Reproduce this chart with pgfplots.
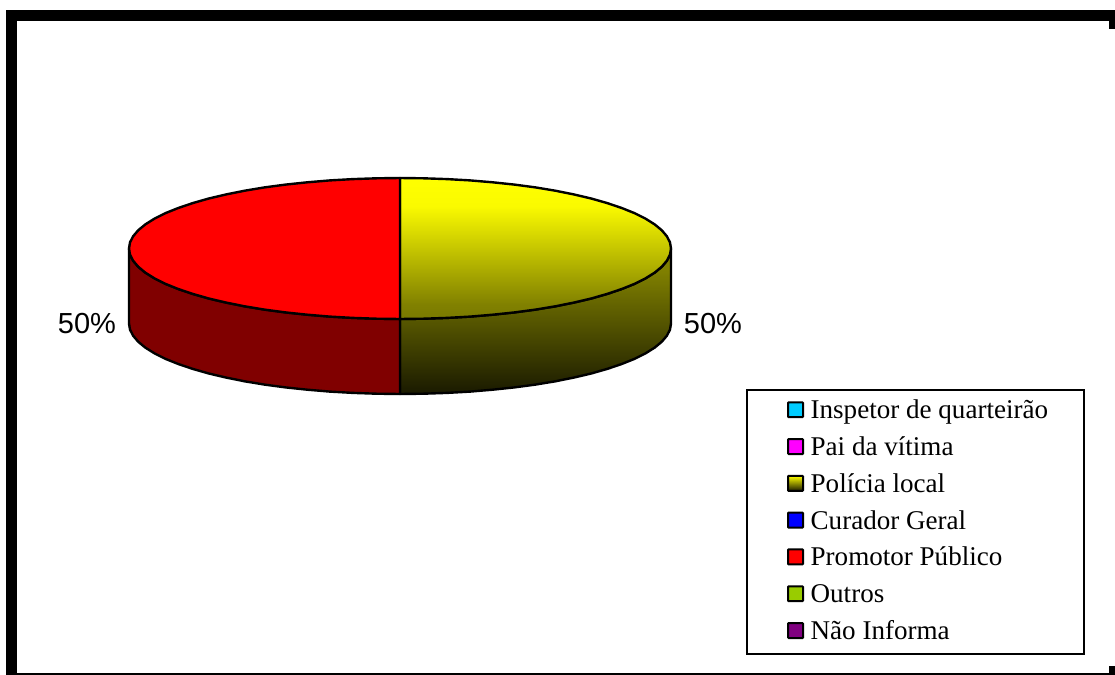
\documentclass[border=0pt]{standalone}
\usepackage{pgfplots}
\pgfplotsset{compat=1.18}
\usepackage{fontspec}
\setmainfont{Liberation Serif}
\newfontfamily\labfont{Liberation Sans}
\definecolor{pieYellow}{RGB}{255,255,0}
\definecolor{pieOliveC}{RGB}{26,26,0}
\definecolor{pieDarkRed}{RGB}{128,0,0}
\definecolor{lgCyan}{RGB}{0,204,255}
\definecolor{lgMagenta}{RGB}{255,0,255}
\definecolor{lgBlue}{RGB}{0,0,255}
\definecolor{lgRed}{RGB}{255,0,0}
\definecolor{lgGreen}{RGB}{153,204,0}
\definecolor{lgPurple}{RGB}{128,0,128}
\pgfdeclareverticalshading{pieTopSh}{100bp}{
  rgb(0bp)=(0.478,0.478,0);
  rgb(25bp)=(0.478,0.478,0);
  rgb(30bp)=(0.502,0.502,0);
  rgb(65bp)=(0.98,0.98,0);
  rgb(75bp)=(1,1,0);
  rgb(100bp)=(1,1,0)}
\pgfdeclareverticalshading{pieSideSh}{100bp}{
  rgb(0bp)=(0.1,0.1,0);
  rgb(25bp)=(0.1,0.1,0);
  rgb(67.5bp)=(0.502,0.502,0);
  rgb(75bp)=(0.502,0.502,0);
  rgb(100bp)=(0.502,0.502,0)}
\newcommand{\lgtxt}[1]{\makebox[174.75pt][l]{#1}}
\begin{document}
\begin{tikzpicture}
\begin{axis}[
  scale only axis, width=836.25pt, height=506.25pt,
  xmin=0, xmax=1115, ymin=0, ymax=675, y dir=reverse,
  hide axis, clip=true,
  every axis plot/.append style={forget plot},
  swatch/.style={legend image code/.code={
    \draw[##1,line width=1.5pt,draw=black,rounded corners=0.5pt,yshift=6.7pt] (0pt,-5.6pt) rectangle (11.25pt,5.6pt);}},
  legend style={
    at={(axis cs:746,389)}, anchor=north west,
    draw=black, line width=1.5pt, fill=white,
    inner xsep=30pt, inner ysep=5.4pt,
    row sep=6pt, column sep=5pt,
    font=\fontsize{20.3pt}{22pt}\selectfont,
    nodes={inner sep=0pt, text height=16.1pt, text depth=5.5pt, anchor=base west},
  },
  legend cell align=left,
]
% background
\addplot[fill=white,draw=none] coordinates {(0,0) (1115,0) (1115,675) (0,675)} --cycle;
% frame
\addplot[fill=black,draw=none] coordinates {(6,10) (1115,10) (1115,21) (6,21)} --cycle;
\addplot[fill=black,draw=none] coordinates {(6,10) (17,10) (17,675) (6,675)} --cycle;
\addplot[fill=black,draw=none] coordinates {(17,673) (1115,673) (1115,675) (17,675)} --cycle;
\addplot[fill=black,draw=none] coordinates {(1109,666) (1115,666) (1115,675) (1109,675)} --cycle;
\addplot[fill=black,draw=none] coordinates {(1109,21) (1115,21) (1115,29) (1109,29)} --cycle;
% right side wall (Polícia local, 50%)
\addplot[draw=black,line width=1.8pt,line join=round,shade,shading=pieSideSh] coordinates {
(671,248.5) (670,254.6) (666.9,260.7) (661.8,266.7) (654.7,272.6) (645.6,278.3) (634.7,283.8) (622,288.9) (607.6,293.8) (591.6,298.4) (574.2,302.5) (555.4,306.3) (535.5,309.6) (514.5,312.4) (492.7,314.7) (470.1,316.6) (447.1,317.9) (423.6,318.7) (400,319)
(400,394) (423.6,393.7) (447.1,392.9) (470.1,391.6) (492.7,389.7) (514.5,387.4) (535.5,384.6) (555.4,381.3) (574.2,377.5) (591.6,373.4) (607.6,368.8) (622,363.9) (634.7,358.8) (645.6,353.3) (654.7,347.6) (661.8,341.7) (666.9,335.7) (670,329.6) (671,323.5)
} --cycle;
% left side wall (Promotor Público, 50%)
\addplot[draw=black,line width=1.8pt,line join=round,fill=pieDarkRed] coordinates {
(129,248.5) (130,254.6) (133.1,260.7) (138.2,266.7) (145.3,272.6) (154.4,278.3) (165.3,283.8) (178,288.9) (192.4,293.8) (208.4,298.4) (225.8,302.5) (244.6,306.3) (264.5,309.6) (285.5,312.4) (307.3,314.7) (329.9,316.6) (352.9,317.9) (376.4,318.7) (400,319)
(400,394) (376.4,393.7) (352.9,392.9) (329.9,391.6) (307.3,389.7) (285.5,387.4) (264.5,384.6) (244.6,381.3) (225.8,377.5) (208.4,373.4) (192.4,368.8) (178,363.9) (165.3,358.8) (154.4,353.3) (145.3,347.6) (138.2,341.7) (133.1,335.7) (130,329.6) (129,323.5)
} --cycle;
% right top
\addplot[draw=black,line width=1.8pt,line join=round,shade,shading=pieTopSh] coordinates {
(400,178) (423.6,178.3) (447.1,179.1) (470.1,180.4) (492.7,182.3) (514.5,184.6) (535.5,187.4) (555.4,190.7) (574.2,194.5) (591.6,198.6) (607.6,203.2) (622,208.1) (634.7,213.2) (645.6,218.7) (654.7,224.4) (661.8,230.3) (666.9,236.3) (670,242.4) (671,248.5)
(670,254.6) (666.9,260.7) (661.8,266.7) (654.7,272.6) (645.6,278.3) (634.7,283.8) (622,288.9) (607.6,293.8) (591.6,298.4) (574.2,302.5) (555.4,306.3) (535.5,309.6) (514.5,312.4) (492.7,314.7) (470.1,316.6) (447.1,317.9) (423.6,318.7) (400,319)
} --cycle;
% left top
\addplot[draw=black,line width=1.8pt,line join=round,fill=lgRed] coordinates {
(400,178) (376.4,178.3) (352.9,179.1) (329.9,180.4) (307.3,182.3) (285.5,184.6) (264.5,187.4) (244.6,190.7) (225.8,194.5) (208.4,198.6) (192.4,203.2) (178,208.1) (165.3,213.2) (154.4,218.7) (145.3,224.4) (138.2,230.3) (133.1,236.3) (130,242.4) (129,248.5)
(130,254.6) (133.1,260.7) (138.2,266.7) (145.3,272.6) (154.4,278.3) (165.3,283.8) (178,288.9) (192.4,293.8) (208.4,298.4) (225.8,302.5) (244.6,306.3) (264.5,309.6) (285.5,312.4) (307.3,314.7) (329.9,316.6) (352.9,317.9) (376.4,318.7) (400,319)
} --cycle;
\node[font=\labfont\fontsize{21.75pt}{24pt}\selectfont,text=black,inner sep=0pt] at (axis cs:87,324) {50\%};
\node[font=\labfont\fontsize{21.75pt}{24pt}\selectfont,text=black,inner sep=0pt] at (axis cs:713,324) {50\%};
% legend
\addlegendimage{swatch,fill=lgCyan}
\addlegendentry{\lgtxt{Inspetor de quarteirão}}
\addlegendimage{swatch,fill=lgMagenta}
\addlegendentry{\lgtxt{Pai da vítima}}
\addlegendimage{swatch,top color=pieYellow,bottom color=pieOliveC}
\addlegendentry{\lgtxt{Polícia local}}
\addlegendimage{swatch,fill=lgBlue}
\addlegendentry{\lgtxt{Curador Geral}}
\addlegendimage{swatch,fill=lgRed}
\addlegendentry{\lgtxt{Promotor Público}}
\addlegendimage{swatch,fill=lgGreen}
\addlegendentry{\lgtxt{Outros}}
\addlegendimage{swatch,fill=lgPurple}
\addlegendentry{\lgtxt{Não Informa}}
\end{axis}
\end{tikzpicture}
\end{document}
